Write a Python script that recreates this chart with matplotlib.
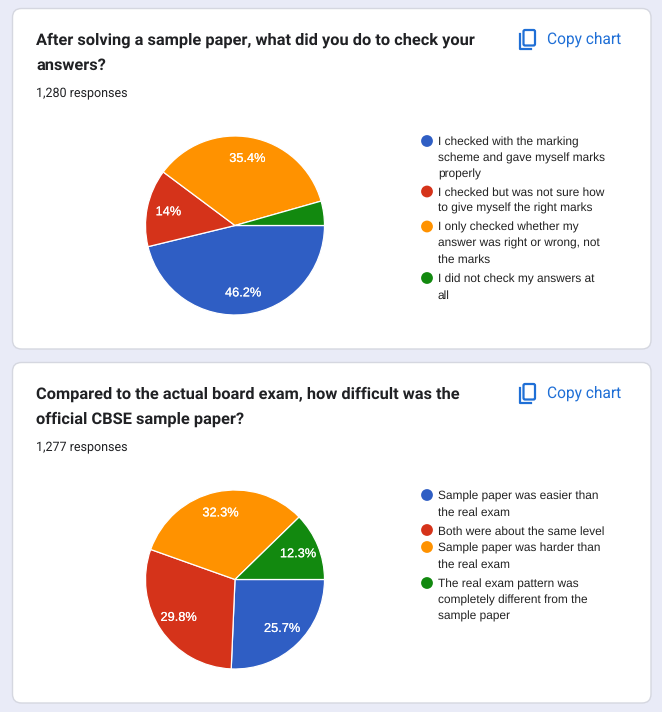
from matplotlib import pyplot as plt
from matplotlib.patches import FancyBboxPatch, Circle
from matplotlib.lines import Line2D
import matplotlib.patheffects as pe

plt.rcParams['text.hinting'] = 'none'

#DATA
titles = ["After solving a sample paper, what did you do to check your\nanswers?",
          "Compared to the actual board exam, how difficult was the\nofficial CBSE sample paper?"]
responses = ["1,280 responses", "1,277 responses"]

values_1 = [46.2, 14, 35.4, 4.4]
values_2 = [25.7, 29.8, 32.3, 12.3]
pct_labels_1 = ["46.2%", "14%", "35.4%", ""]
pct_labels_2 = ["25.7%", "29.8%", "32.3%", "12.3%"]

legend_1 = ["I checked with the marking\nscheme and gave myself marks\nproperly",
            "I checked but was not sure how\nto give myself the right marks",
            "I only checked whether my\nanswer was right or wrong, not\nthe marks",
            "I did not check my answers at\nall"]
legend_2 = ["Sample paper was easier than\nthe real exam",
            "Both were about the same level",
            "Sample paper was harder than\nthe real exam",
            "The real exam pattern was\ncompletely different from the\nsample paper"]

colors = ['#2f5ec4', '#d5331a', '#ff9200', '#12890f']

W, H = 662, 712
fig = plt.figure(figsize=(W / 100, H / 100), dpi=100, facecolor='#e9ebf7')

#background layer in pixel coordinates
bg = fig.add_axes([0, 0, 1, 1])
bg.set_xlim(0, W)
bg.set_ylim(H, 0)
bg.axis('off')


def draw_card(top, bottom, title, resp, vals, pcts, legend, legend_ys):
    bg.add_patch(FancyBboxPatch((12.5, top), 638.5, bottom - top, boxstyle='round,pad=0,rounding_size=9',
                                facecolor='white', edgecolor='#d5d7e0', linewidth=1))
    bg.text(36, top + 44, title, family='Roboto', fontweight='bold', fontsize=11.77, color='#202124',
            va='center', ha='left', linespacing=1.79)
    bg.text(36, top + 85.5, resp, family='Roboto', fontsize=9.0, color='#202124', va='center', ha='left')

    #copy icon
    bg.add_patch(FancyBboxPatch((523.5, top + 21.5), 11.5, 15.5, boxstyle='round,pad=0,rounding_size=1.5',
                                facecolor='none', edgecolor='#1f6fd6', linewidth=1.6))
    bg.add_line(Line2D([519.5, 519.5, 531], [top + 25, top + 40.5, top + 40.5], color='#1f6fd6', linewidth=1.6))
    bg.text(547, top + 31, "Copy chart", family='Roboto', fontsize=11.2, color='#1f6fd6', va='center', ha='left')

    #pie
    cx, cy, r = 235, top + 217, 89.5
    ax = fig.add_axes([(cx - r) / W, 1 - (cy + r) / H, 2 * r / W, 2 * r / H])
    label_iter = iter(pcts)
    wedges, _, autotexts = ax.pie(vals, colors=colors, startangle=0, counterclock=False, radius=1,
                                  autopct=lambda p: next(label_iter), pctdistance=0.76,
                                  wedgeprops={'edgecolor': 'white', 'linewidth': 0.9})
    for t in autotexts:
        t.set(family='Liberation Sans', color='white', fontsize=9.2)
        t.set_path_effects([pe.withStroke(linewidth=0.1, foreground='white')])
    ax.set_xlim(-1, 1)
    ax.set_ylim(-1, 1)

    #legend
    for c, txt, y in zip(colors, legend, legend_ys):
        bg.add_patch(Circle((427, top + y), 5.9, facecolor=c, edgecolor='none'))
        bg.text(438, top + y - 4.2, txt, family='Liberation Sans', fontsize=8.6, color='#222222',
                va='top', ha='left', linespacing=1.54)


draw_card(8.5, 349, titles[0], responses[0], values_1, pct_labels_1, legend_1, [132.5, 183, 218, 269.5])
draw_card(362.5, 703, titles[1], responses[1], values_2, pct_labels_2, legend_2, [132.5, 167.5, 184.5, 220.5])

plt.savefig('out.png', dpi=100, facecolor=fig.get_facecolor())
